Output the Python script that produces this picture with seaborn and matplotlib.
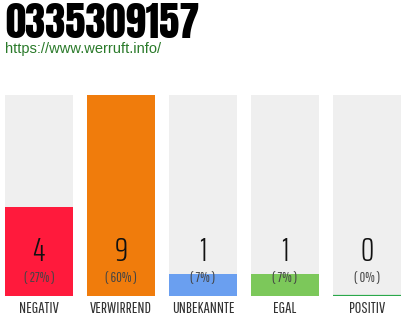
import matplotlib
matplotlib.use("Agg")
import matplotlib.pyplot as plt
import seaborn as sns
import pandas as pd

categories = ["NEGATIV", "VERWIRREND", "UNBEKANNTE", "EGAL", "POSITIV"]
counts = [4, 9, 1, 1, 0]
percents = ["( 27% )", "( 60% )", "( 7% )", "( 7% )", "( 0% )"]
colors = ["#ff1a3c", "#f07c0c", "#6a9ff0", "#7cc85a", "#2aa84a"]
title = "0335309157"
url = "https://www.werruft.info/"

sns.set_theme(style="white")
plt.rcParams["font.family"] = ["Pathway Gothic One", "DejaVu Sans"]

df = pd.DataFrame({"cat": categories, "count": counts})
maxv = max(counts)
df["bg"] = maxv

fig = plt.figure(figsize=(4.1, 3.2), dpi=100)
ax = fig.add_axes([5 / 410, 24 / 320, 396 / 410, 201 / 320])

bw = 68 / 82
sns.barplot(data=df, x="cat", y="bg", color="#efefef", width=bw, ax=ax,
            saturation=1, linewidth=0)
sns.barplot(data=df, x="cat", y="count", hue="cat", palette=colors, width=bw,
            ax=ax, saturation=1, legend=False, linewidth=0)
# zero-valued bars show a thin line at the base
for i, v in enumerate(counts):
    if v == 0:
        ax.bar(i, v, width=bw, bottom=0, edgecolor=colors[i], linewidth=1.6,
               color=colors[i])

ax.set_xlim(-0.5 * bw, len(categories) - 1 + 0.5 * bw)
ax.set_ylim(0, maxv)
ax.axis("off")

trans = ax.get_xaxis_transform()
for i, (c, p, lab) in enumerate(zip(counts, percents, categories)):
    ax.text(i, 0.22, str(c), transform=trans, ha="center", va="center",
            fontsize=24, color="#111111",
            family=["Saira ExtraCondensed", "DejaVu Sans"], fontweight=300)
    ax.text(i, 0.09, p, transform=trans, ha="center", va="center",
            fontsize=10, color="#444444")
    ax.text(i, -0.06, lab, transform=trans, ha="center", va="center",
            fontsize=11.5, color="#333333")

fig.text(5 / 410, 1 - 23 / 320, title, ha="left", va="center", fontsize=29.3,
         color="#000000", family=["Anton", "DejaVu Sans"])
fig.text(5 / 410, 1 - 49 / 320, url, ha="left", va="center", fontsize=10.5,
         color="#2a7a2a", family=["Liberation Sans", "DejaVu Sans"])

fig.savefig("out.png", dpi=100)
